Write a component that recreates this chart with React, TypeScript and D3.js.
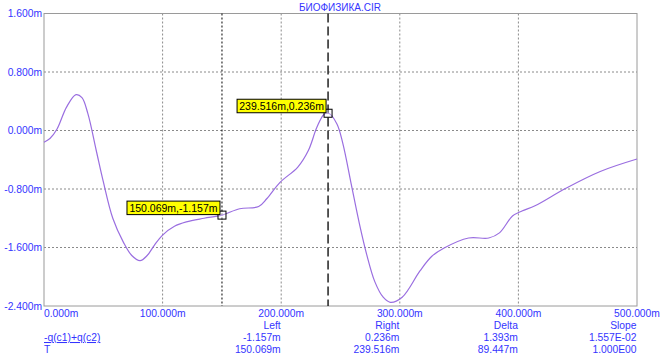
import React from "react";
import * as d3 from "d3";

// waveform -q(c1)+q(c2) vs T (ms, mV-ish)
const tVals = [0, 5, 11, 19, 27, 32, 37, 44, 50, 58, 67, 74, 81, 87, 93, 100, 110, 120, 135, 150, 165, 181, 188, 199, 214, 223, 230, 236, 240, 247, 252, 259, 266, 272, 279, 286, 292, 302, 317, 327, 337, 358, 375, 384, 395, 403, 414, 440, 469, 500];
const qVals = [-0.16, -0.11, 0.02, 0.32, 0.49, 0.45, 0.23, -0.27, -0.7, -1.2, -1.53, -1.71, -1.78, -1.71, -1.57, -1.43, -1.31, -1.25, -1.2, -1.157, -1.07, -1.04, -0.93, -0.71, -0.5, -0.27, 0.04, 0.22, 0.236, 0.09, -0.18, -0.73, -1.28, -1.69, -2.07, -2.28, -2.35, -2.28, -1.92, -1.72, -1.61, -1.47, -1.47, -1.4, -1.17, -1.1, -1.03, -0.79, -0.56, -0.39];

const xTicks = [0, 100, 200, 300, 400, 500];
const yTicks = [1.6, 0.8, 0, -0.8, -1.6, -2.4];

const cursorLeft = { t: 150.069, v: -1.157 };
const cursorRight = { t: 239.516, v: 0.236 };

const tableHeads = ["Left", "Right", "Delta", "Slope"];
const rowQ = ["-1.157m", "0.236m", "1.393m", "1.557E-02"];
const rowT = ["150.069m", "239.516m", "89.447m", "1.000E00"];

const BLUE = "#3434ff";
const FONT = "'Liberation Sans', Arial, sans-serif";

export default function App() {
  const W = 664, H = 362;
  const x = d3.scaleLinear().domain([0, 500]).range([44, 637]);
  const y = d3.scaleLinear().domain([-2.4, 1.6]).range([306, 13.5]);

  const pts: [number, number][] = tVals.map((t, i) => [t, qVals[i]]);
  const line = d3.line<[number, number]>()
    .x(d => x(d[0]))
    .y(d => y(d[1]))
    .curve(d3.curveCatmullRom.alpha(0.5));

  const fmt = (v: number) => v.toFixed(3) + "m";

  return (
    <svg width={W} height={H} style={{ position: "absolute", left: 0, top: 0, background: "#fff" }} fontFamily={FONT}>
      <rect x={0} y={0} width={W} height={H} fill="#fff" />
      <text x={340} y={11} fontSize={10} fill={BLUE} textAnchor="middle">БИОФИЗИКА.CIR</text>

      {/* grid */}
      {xTicks.slice(1, -1).map(t => (
        <line key={"gx" + t} x1={x(t)} x2={x(t)} y1={y(1.6)} y2={y(-2.4)} stroke="#8a8a8a" strokeDasharray="2,2" />
      ))}
      {yTicks.slice(1, -1).map(v => (
        <line key={"gy" + v} x1={x(0)} x2={x(500)} y1={y(v)} y2={y(v)} stroke="#8a8a8a" strokeDasharray="2,2" />
      ))}
      <rect x={x(0)} y={y(1.6)} width={x(500) - x(0)} height={y(-2.4) - y(1.6)} fill="none" stroke="#9a9a9a" />

      {/* y labels */}
      {yTicks.map(v => (
        <text key={"yl" + v} x={42} y={y(v) + 3.5} fontSize={10.3} fill={BLUE} textAnchor="end">{fmt(v)}</text>
      ))}
      {/* x labels */}
      {xTicks.map((t, i) => (
        <text key={"xl" + t} x={x(t)} y={317} fontSize={10.3} fill={BLUE}
          textAnchor={i === 0 ? "start" : "middle"}>{fmt(t)}</text>
      ))}

      {/* cursors */}
      <line x1={x(cursorLeft.t)} x2={x(cursorLeft.t)} y1={y(1.6)} y2={y(-2.4)} stroke="#000" strokeDasharray="2,2" />
      <line x1={x(cursorRight.t)} x2={x(cursorRight.t)} y1={y(1.6)} y2={y(-2.4)} stroke="#222" strokeWidth={1.5} strokeDasharray="9,4" />

      <path d={line(pts) || ""} fill="none" stroke="#9a6ee0" strokeWidth={1.2} />

      {[cursorLeft, cursorRight].map((c, i) => {
        const cx = x(c.t), cy = y(c.v);
        const label = fmt(c.t) + "," + fmt(c.v);
        const bw = i === 0 ? 93 : 89;
        return (
          <g key={"c" + i}>
            <rect x={cx - 4} y={cy - 4} width={8} height={8} fill="#fff" fillOpacity={0.3} stroke="#000" />
            <rect x={cx - 2 - bw} y={cy - 14} width={bw} height={13.5} fill="#ffff00" stroke="#000" />
            <text x={cx - 2 - bw / 2} y={cy - 3.5} fontSize={10.5} fill="#000" textAnchor="middle">{label}</text>
          </g>
        );
      })}

      {/* cursor table */}
      {tableHeads.map((h, i) => (
        <g key={"th" + i}>
          <text x={x(200 + i * 100) - 0.5} y={329} fontSize={10.3} fill={BLUE} textAnchor="end">{h}</text>
          <text x={x(200 + i * 100) - 0.5} y={341} fontSize={10.3} fill={BLUE} textAnchor="end">{rowQ[i]}</text>
          <text x={x(200 + i * 100) - 0.5} y={353} fontSize={10.3} fill={BLUE} textAnchor="end">{rowT[i]}</text>
        </g>
      ))}
      <text x={44} y={341} fontSize={10.3} fill={BLUE} textDecoration="underline">-q(c1)+q(c2)</text>
      <text x={44} y={353} fontSize={10.3} fill={BLUE}>T</text>
    </svg>
  );
}
